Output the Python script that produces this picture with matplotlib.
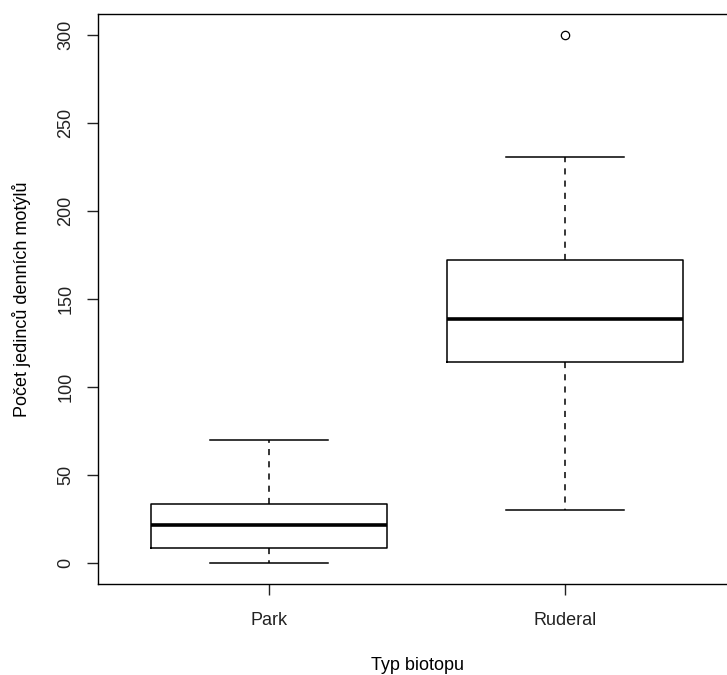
import matplotlib
matplotlib.use("Agg")
import matplotlib.pyplot as plt

plt.rcParams['font.family'] = ['Liberation Sans', 'DejaVu Sans']

# Box statistics
categories = ['Park', 'Ruderal']
whisker_low = [0, 30]
q1 = [8.5, 114]
medians = [21.5, 138.5]
q3 = [33.5, 172]
whisker_high = [70, 231]
outliers = [[], [300]]
y_ticks = [0, 50, 100, 150, 200, 250, 300]

stats = []
for i, name in enumerate(categories):
    stats.append({
        'label': name,
        'whislo': whisker_low[i],
        'q1': q1[i],
        'med': medians[i],
        'q3': q3[i],
        'whishi': whisker_high[i],
        'fliers': outliers[i],
    })

fig = plt.figure(figsize=(7.27, 6.75), dpi=100)
# R-style plot region; right edge runs past the image like the original crop
ax = fig.add_axes([98 / 727, 91 / 675, 638 / 727, 570 / 675])

ax.bxp(
    stats,
    positions=[1, 2],
    widths=0.8,
    boxprops=dict(color='black', linewidth=1.1),
    medianprops=dict(color='black', linewidth=2.6, solid_capstyle='butt'),
    whiskerprops=dict(color='black', linewidth=1.1, linestyle=(0, (4, 4))),
    capprops=dict(color='black', linewidth=1.1),
    capwidths=0.4,
    flierprops=dict(marker='o', markerfacecolor='none', markeredgecolor='black',
                    markersize=6, markeredgewidth=0.9),
)

ax.set_xlim(0.42, 2.58)
ax.set_ylim(-12, 312)
ax.set_xticks([1, 2])
ax.set_xticklabels(categories)
ax.set_yticks(y_ticks)
ax.set_yticklabels([str(v) for v in y_ticks], rotation=90, va='center')

for side in ['top', 'bottom', 'left', 'right']:
    ax.spines[side].set_linewidth(1.0)
    ax.spines[side].set_color('black')

ax.tick_params(axis='both', length=8, width=1.0, labelsize=13, colors='#222222')
ax.tick_params(axis='y', pad=9)
ax.tick_params(axis='x', pad=12)

ax.set_xlabel('Typ biotopu', fontsize=13, labelpad=20)
ax.set_ylabel('Počet jedinců denních motýlů', fontsize=13, labelpad=19)

fig.savefig('out.png', dpi=100)
